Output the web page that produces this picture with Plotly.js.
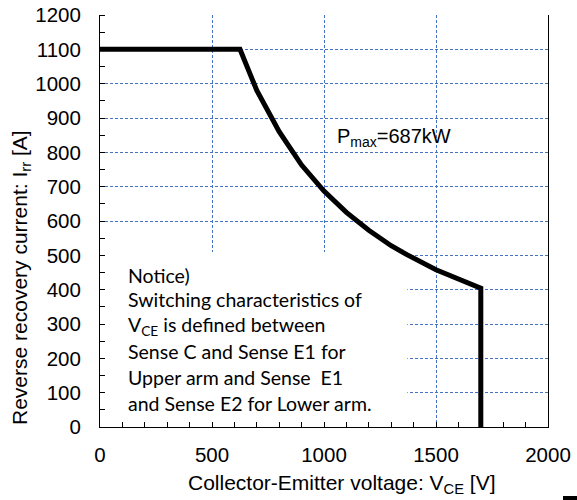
<!DOCTYPE html>
<html>
<head>
<meta charset="utf-8">
<script src="https://cdn.plot.ly/plotly-3.0.1.min.js"></script>
<style>html,body{margin:0;padding:0;background:#fff;}#chart{width:577px;height:500px;}</style>
</head>
<body>
<div id="chart"></div>
<script>
// Data
const vce = [0, 625, 700, 800, 900, 1000, 1100, 1200, 1300, 1370, 1500, 1600, 1700, 1700];
const irr = [1100, 1100, 980, 860, 763, 687, 625, 573, 528, 502, 458, 430, 404, 0];
const xTicks = [0, 500, 1000, 1500, 2000];
const yTicks = [0, 100, 200, 300, 400, 500, 600, 700, 800, 900, 1000, 1100, 1200];
const noticeLines = [
  "Notice)",
  "Switching characteristics of",
  "V<sub>CE</sub> is defined between",
  "Sense C and Sense E1 for",
  "Upper arm and Sense  E1",
  "and Sense E2 for Lower arm."
];
const noticeY = [441, 371, 295, 220, 144, 68];
const pmaxLabel = "P<sub>max</sub>=687kW";
const xTitle = "Collector-Emitter voltage: V<sub>CE</sub> [V]";
const yTitle = "Reverse recovery current: I<sub>rr</sub> [A]";

const SANS = "Liberation Sans";
const gridColor = "#4472C4";
const trace = {
  x: vce, y: irr, mode: "lines", type: "scatter",
  line: {color: "#000", width: 5},
  hoverinfo: "skip", showlegend: false
};

const annotations = noticeLines.map((t, i) => ({
  text: t, x: 118, y: noticeY[i], xref: "x", yref: "y",
  xanchor: "left", yanchor: "middle", showarrow: false,
  font: {family: "Lato", size: 19.5, color: "#000"}
}));
annotations.push({
  text: pmaxLabel, x: 1050, y: 842, xref: "x", yref: "y",
  xanchor: "left", yanchor: "middle", showarrow: false,
  font: {family: SANS, size: 20, color: "#000"}
});
// axis titles placed by pixel position, converted to paper coords below
const L = 100, T = 15, W = 448, H = 412;
annotations.push({
  text: xTitle, x: (342 - L) / W, y: (T + H - 484) / H, xref: "paper", yref: "paper",
  xanchor: "center", yanchor: "middle", showarrow: false,
  font: {family: SANS, size: 21, color: "#000"}
});
annotations.push({
  text: yTitle, textangle: -90, x: (21 - L) / W, y: (T + H - 278) / H, xref: "paper", yref: "paper",
  xanchor: "center", yanchor: "middle", showarrow: false,
  font: {family: SANS, size: 21, color: "#000"}
});

const layout = {
  width: 577, height: 500,
  margin: {l: 100, r: 29, t: 15, b: 73},
  paper_bgcolor: "#fff", plot_bgcolor: "#fff",
  font: {family: SANS, size: 20, color: "#000"},
  xaxis: {
    range: [0, 2000], tickvals: xTicks, ticktext: xTicks.map(String),
    showline: true, linecolor: "#000", linewidth: 1, zeroline: false,
    showgrid: true, gridcolor: gridColor, griddash: "3px,2px", gridwidth: 1,
    ticks: "inside", ticklen: 5, tickcolor: "#000",
    minor: {dtick: 100, ticks: "inside", ticklen: 5, tickcolor: "#000", showgrid: false},
    ticklabelstandoff: 9, tickfont: {family: SANS, size: 20.5},
    fixedrange: true
  },
  yaxis: {
    range: [0, 1200], tickvals: yTicks, ticktext: yTicks.map(String),
    showline: true, linecolor: "#000", linewidth: 1, mirror: true, zeroline: false,
    showgrid: true, gridcolor: gridColor, griddash: "3px,2px", gridwidth: 1,
    ticks: "",
    minor: {dtick: 50, ticks: "inside", ticklen: 5, tickcolor: "#000", showgrid: false},
    ticklabelstandoff: 14, tickfont: {family: SANS, size: 20.5},
    fixedrange: true
  },
  shapes: [
    {type: "rect", xref: "x", yref: "y", x0: 0, x1: 1372, y0: 0, y1: 510,
     fillcolor: "#fff", line: {width: 0}, layer: "between"},
    {type: "rect", xref: "paper", yref: "paper", x0: (563 - L) / W, x1: (577 - L) / W,
     y0: (T + H - 500) / H, y1: (T + H - 496) / H, fillcolor: "#000", line: {width: 0}}
  ],
  annotations: annotations
};

Plotly.newPlot("chart", [trace], layout, {displayModeBar: false, staticPlot: true});
</script>
</body>
</html>
